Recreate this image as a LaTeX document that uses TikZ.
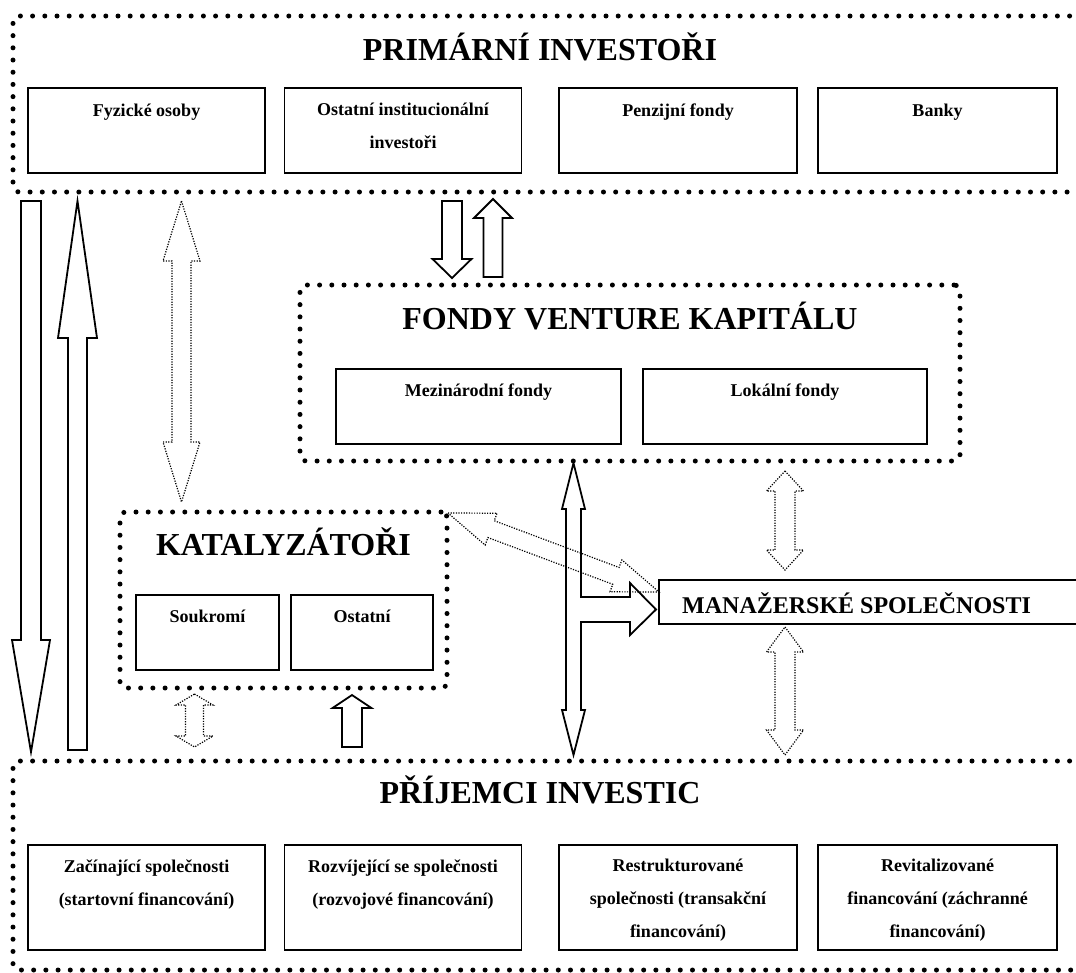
\documentclass[tikz,border=0pt]{standalone}
\usepackage{fontspec}
\setmainfont{Liberation Serif}
\usetikzlibrary{calc}

\tikzset{
  groupbox/.style={draw, line width=5pt, dash pattern=on 0pt off 12.2pt, line cap=round, rounded corners=6pt, inner sep=0pt},
  unitbox/.style={draw, line width=1.8pt, inner sep=0pt},
  grouptitle/.style={font=\fontsize{32}{36}\selectfont\bfseries, anchor=base, inner sep=0pt},
  unittext/.style={font=\fontsize{18}{33}\selectfont\bfseries, align=center, anchor=base, inner sep=0pt},
  solidarr/.style={draw, line width=1.8pt, line join=miter},
  dotarr/.style={draw, line width=1.2pt, dash pattern=on 1.2pt off 1.4pt},
}

% hollow block arrow: style, from, to, head length, head half width, shaft half width
\newcommand{\fatarrow}[6]{%
  \coordinate (fa-h) at ($(#3)!#4!(#2)$);
  \path[#1] ($(#2)!#6!90:(#3)$) -- ($(fa-h)!#6!90:(#3)$) -- ($(fa-h)!#5!90:(#3)$)
    -- (#3) -- ($(fa-h)!#5!-90:(#3)$) -- ($(fa-h)!#6!-90:(#3)$) -- ($(#2)!#6!-90:(#3)$) -- cycle;
}
% hollow block arrow with two heads
\newcommand{\fatdarrow}[6]{%
  \coordinate (fa-a) at ($(#2)!#4!(#3)$);
  \coordinate (fa-b) at ($(#3)!#4!(#2)$);
  \path[#1] (#2) -- ($(fa-a)!#5!90:(#3)$) -- ($(fa-a)!#6!90:(#3)$) -- ($(fa-b)!#6!90:(#3)$)
    -- ($(fa-b)!#5!90:(#3)$) -- (#3) -- ($(fa-b)!#5!-90:(#3)$) -- ($(fa-b)!#6!-90:(#3)$)
    -- ($(fa-a)!#6!-90:(#3)$) -- ($(fa-a)!#5!-90:(#3)$) -- cycle;
}

\begin{document}
\begin{tikzpicture}[x=1pt, y=-1pt]
  \path[use as bounding box, clip] (0,0) rectangle (1076,972);

  % groups
  \node[groupbox, minimum width=1087pt, minimum height=176pt] (prim) at (556.5,104) {};
  \node[groupbox, minimum width=660pt, minimum height=176pt] (vc) at (630,373) {};
  \node[groupbox, minimum width=327pt, minimum height=176pt] (kat) at (283.5,600) {};
  \node[groupbox, minimum width=1087pt, minimum height=209pt] (prij) at (556.5,865.5) {};

  \node[grouptitle] (prim-t) at (540,60) {PRIMÁRNÍ INVESTOŘI};
  \node[grouptitle] (vc-t) at (630,329) {FONDY VENTURE KAPITÁLU};
  \node[grouptitle] (kat-t) at (283.5,555) {KATALYZÁTOŘI};
  \node[grouptitle] (prij-t) at (540,803) {PŘÍJEMCI INVESTIC};

  % primary investors (base = last line)
  \node[unitbox, minimum width=237pt, minimum height=85pt] (fo) at (146.5,130.5) {};
  \node[unitbox, minimum width=237pt, minimum height=85pt] (oii) at (403,130.5) {};
  \node[unitbox, minimum width=238pt, minimum height=85pt] (pf) at (678,130.5) {};
  \node[unitbox, minimum width=239pt, minimum height=85pt] (bk) at (937.5,130.5) {};
  \node[unittext] at ($(fo.north)+(0,29)$) {Fyzické osoby};
  \node[unittext] at ($(oii.north)+(0,61)$) {Ostatní institucionální\\investoři};
  \node[unittext] at ($(pf.north)+(0,29)$) {Penzijní fondy};
  \node[unittext] at ($(bk.north)+(0,29)$) {Banky};

  % venture capital funds
  \node[unitbox, minimum width=285pt, minimum height=75pt] (mf) at (478.5,406.5) {};
  \node[unitbox, minimum width=284pt, minimum height=75pt] (lf) at (785,406.5) {};
  \node[unittext] at ($(mf.north)+(0,28)$) {Mezinárodní fondy};
  \node[unittext] at ($(lf.north)+(0,28)$) {Lokální fondy};

  % catalysts
  \node[unitbox, minimum width=143pt, minimum height=75pt] (sk) at (207.5,632.5) {};
  \node[unitbox, minimum width=142pt, minimum height=75pt] (os) at (362,632.5) {};
  \node[unittext] at ($(sk.north)+(0,28)$) {Soukromí};
  \node[unittext] at ($(os.north)+(0,28)$) {Ostatní};

  % management companies
  \node[unitbox, minimum width=436pt, minimum height=44pt] (mgr) at (877,602) {};
  \node[grouptitle, font=\fontsize{24}{28}\selectfont\bfseries, anchor=base west] at (682,613) {MANAŽERSKÉ SPOLEČNOSTI};

  % recipients
  \node[unitbox, minimum width=237pt, minimum height=105pt] (zs) at (146.5,897.5) {};
  \node[unitbox, minimum width=237pt, minimum height=105pt] (rs) at (403,897.5) {};
  \node[unitbox, minimum width=238pt, minimum height=105pt] (rest) at (678,897.5) {};
  \node[unitbox, minimum width=239pt, minimum height=105pt] (rev) at (937.5,897.5) {};
  \node[unittext] at ($(zs.north)+(0,61)$) {Začínající společnosti\\(startovní financování)};
  \node[unittext] at ($(rs.north)+(0,61)$) {Rozvíjející se společnosti\\(rozvojové financování)};
  \node[unittext] at ($(rest.north)+(0,93)$) {Restrukturované\\společnosti (transakční\\financování)};
  \node[unittext] at ($(rev.north)+(0,93)$) {Revitalizované\\financování (záchranné\\financování)};

  % arrow ends
  \coordinate (pd-s) at (31,201);   \coordinate (pd-e) at (31,752);
  \coordinate (pu-s) at (77.5,750); \coordinate (pu-e) at (77.5,201);
  \coordinate (pk-s) at (181.5,201); \coordinate (pk-e) at (181.5,502);
  \coordinate (pv-s) at (452,201);  \coordinate (pv-e) at (452,278);
  \coordinate (vp-s) at (493,277);  \coordinate (vp-e) at (493,199);
  \coordinate (km-s) at (448,513);  \coordinate (km-e) at (659,592);
  \coordinate (vm-s) at (785,471);  \coordinate (vm-e) at (785,570);
  \coordinate (mp-s) at (785,627);  \coordinate (mp-e) at (785,755);
  \coordinate (kp-s) at (194.5,694); \coordinate (kp-e) at (194.5,747);
  \coordinate (pk2-s) at (352,747); \coordinate (pk2-e) at (352,695);

  \fatarrow{solidarr}{pd-s}{pd-e}{112pt}{19pt}{10pt}
  \fatarrow{solidarr}{pu-s}{pu-e}{137pt}{19.5pt}{9.5pt}
  \fatdarrow{dotarr}{pk-s}{pk-e}{60pt}{18.5pt}{9.5pt}
  \fatarrow{solidarr}{pv-s}{pv-e}{19pt}{19.5pt}{10pt}
  \fatarrow{solidarr}{vp-s}{vp-e}{19pt}{19pt}{9.5pt}
  \fatdarrow{dotarr}{km-s}{km-e}{46pt}{17pt}{9pt}
  \fatdarrow{dotarr}{vm-s}{vm-e}{20pt}{18.5pt}{10pt}
  \fatdarrow{dotarr}{mp-s}{mp-e}{25pt}{18.5pt}{10pt}
  \fatdarrow{dotarr}{kp-s}{kp-e}{11pt}{18.5pt}{9pt}
  \fatarrow{solidarr}{pk2-s}{pk2-e}{13pt}{19.5pt}{10pt}

  % funds - recipients with branch to management companies
  \path[solidarr] (573.5,463) -- (585,509) -- (581,509) -- (581,597) -- (630,597) -- (630,583)
    -- (656,609.5) -- (630,635) -- (630,622) -- (581,622) -- (581,710) -- (585,710)
    -- (573.5,755) -- (562,710) -- (566,710) -- (566,509) -- (562,509) -- cycle;
\end{tikzpicture}
\end{document}
